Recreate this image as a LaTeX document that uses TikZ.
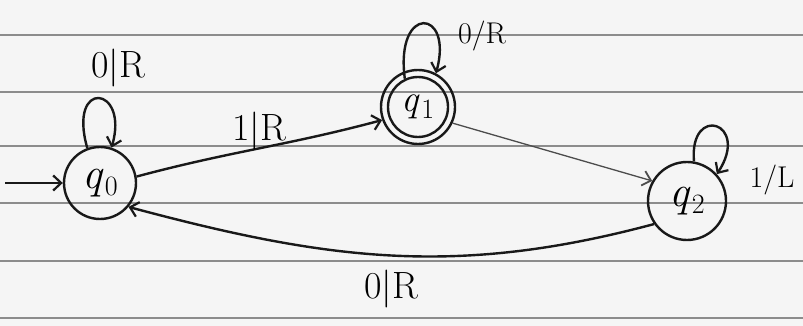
\documentclass[tikz,border=0pt]{standalone}
\usepackage{fontspec}
\usetikzlibrary{arrows.meta}
\newcommand{\stlabel}[1]{\textit{q}\kern1pt{\fontsize{28}{28}\selectfont\raisebox{-7pt}{#1}}}
\begin{document}
\begin{tikzpicture}[x=1pt,y=-1pt,
  ink/.style={line width=2.4pt,draw=black!90},
  state/.style={circle,ink,inner sep=0pt,font=\fontsize{44}{46}\selectfont},
  edge/.style={ink,-{Straight Barb[length=8pt,width=15pt,line width=2.2pt]}},
  thinedge/.style={line width=1.3pt,draw=black!70,-{Straight Barb[length=8pt,width=15pt,line width=1.8pt]}},
  lbl/.style={font=\fontsize{38}{40}\selectfont},
  smalllbl/.style={font=\fontsize{30}{32}\selectfont},
  ruled/.style={draw=black!45,line width=1.3pt}]
\useasboundingbox (0,0) rectangle (803,326);
\fill[black!4] (0,0) rectangle (803,326);
\foreach \y in {35,92,146,203,261,318} \draw[ruled] (0,\y) -- (803,\y);
% states
\node[state,minimum size=72pt] (q0) at (100,183) {\stlabel{0}};
\node[state,minimum size=74pt] (q1) at (418,107) {};
\node[state,minimum size=60pt,font=\fontsize{38}{40}\selectfont] (q1in) at (q1) {\stlabel{1}};
\node[state,minimum size=78pt] (q2) at (687,201) {\stlabel{2}};
\coordinate (start) at (5,183);
% edges
\draw[edge] (start) -- (q0);
\draw[edge] (q0.10) to[out=15,in=195] node[lbl,pos=0.5,above=-6pt] {1\textbar R} (q1.200);
\draw[thinedge] (q1.-25) -- (q2.150);
\draw[edge] (q2.215) to[out=195,in=-15] node[lbl,pos=0.5,below=10pt] {0\textbar R} (q0.-40);
% loops
\draw[edge] (q0.110) .. controls +(-20,-70) and +(18,-62) .. (q0.72);
\node[lbl] (l0) at (118,68) {0\textbar R};
\draw[edge] (q1in.115) .. controls +(-10,-75) and +(18,-65) .. (q1.62);
\node[smalllbl] (l1) at (482,36) {0/R};
\draw[edge] (q2.80) .. controls +(-5,-58) and +(34,-52) .. (q2.42);
\node[smalllbl] (l2) at (772,180) {1/L};
\end{tikzpicture}
\end{document}
